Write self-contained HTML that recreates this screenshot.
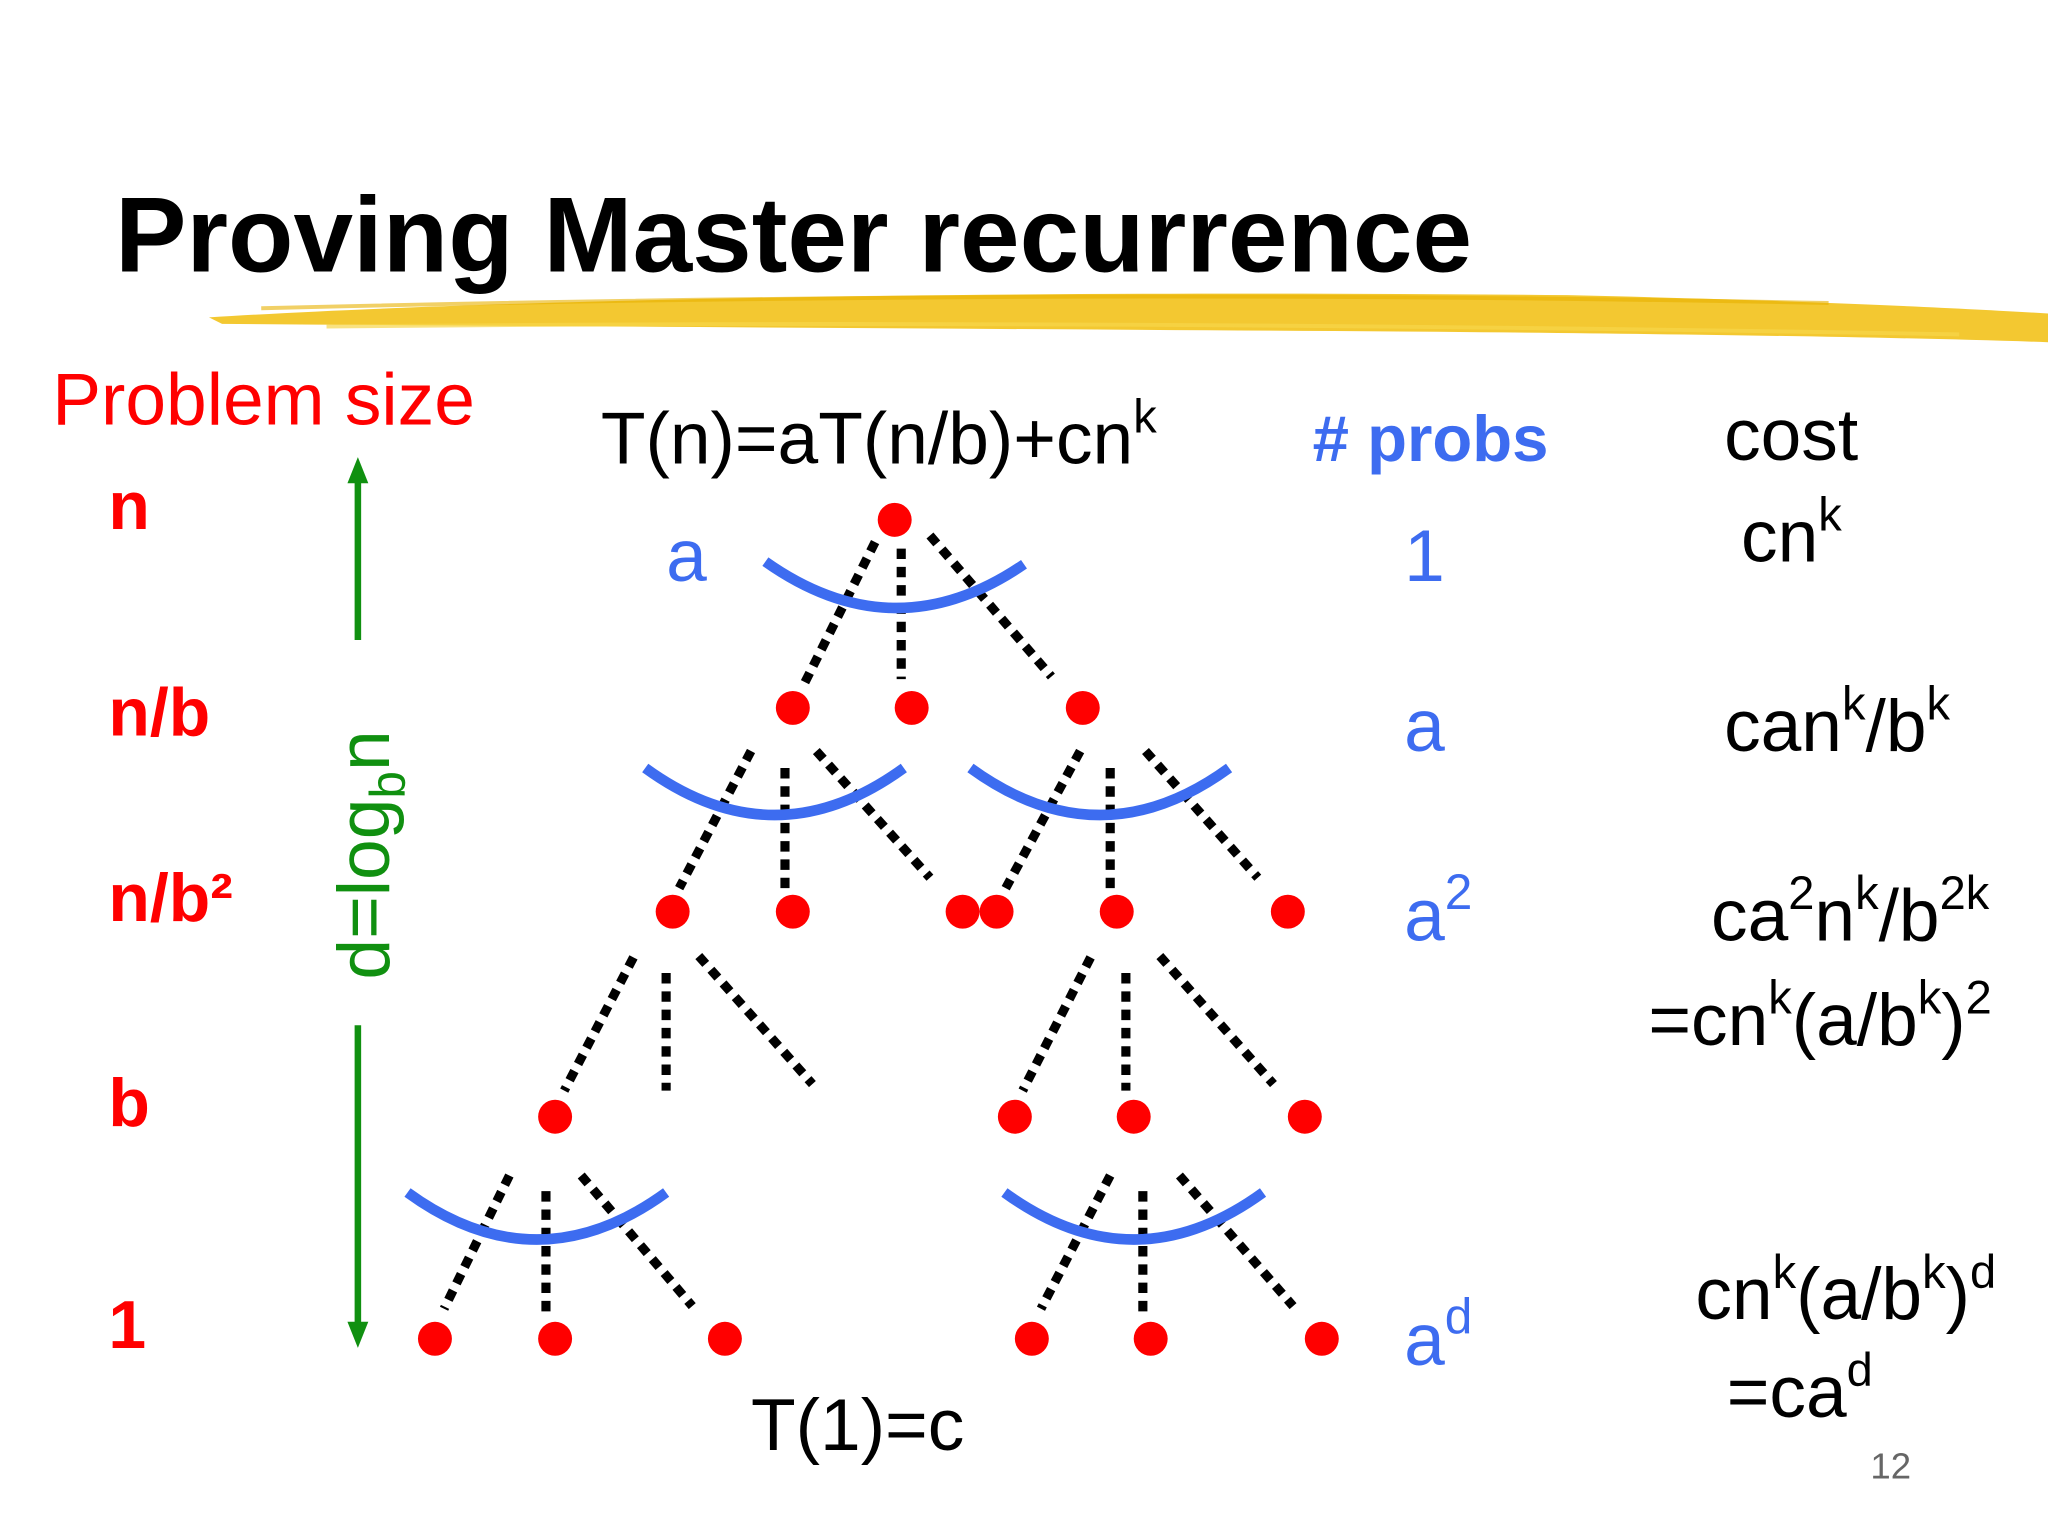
<!DOCTYPE html>
<html><head><meta charset="utf-8"><style>
html,body{margin:0;padding:0;background:#fff;width:2048px;height:1536px;overflow:hidden}
svg{display:block}
text{font-family:"Liberation Sans",sans-serif}
</style></head><body>
<svg width="2048" height="1536" viewBox="0 0 1568 1176" xmlns="http://www.w3.org/2000/svg">
<rect width="1568" height="1176" fill="#fff"/>
<!-- brush stroke -->
<path d="M160 243 C400 228 800 222 1200 226 C1380 230 1500 236 1568 240 L1568 262 C1450 258 1300 256 1100 254 C800 252 450 250 170 248 Z" fill="#f2c21b" opacity="0.9"/>
<path d="M200 236 C600 226 1000 224 1400 232" stroke="#e8b000" stroke-width="3" fill="none" opacity="0.6"/>
<path d="M250 250 C650 246 1050 248 1500 256" stroke="#f7d54a" stroke-width="3" fill="none" opacity="0.7"/>
<text x="88" y="208" font-size="82" font-weight="bold" fill="#000">Proving Master recurrence</text>

<text x="40" y="325" font-size="56" fill="#f00">Problem size</text>
<g font-size="52" font-weight="bold" fill="#f00">
<text x="83" y="405">n</text>
<text x="83" y="563">n/b</text>
<text x="83" y="705">n/b²</text>
<text x="83" y="862">b</text>
<text x="83" y="1032">1</text>
</g>

<!-- green arrow -->
<g stroke="#109010" stroke-width="5" fill="#109010">
<line x1="274" y1="365" x2="274" y2="490"/>
<line x1="274" y1="785" x2="274" y2="1018"/>
<path d="M274 350 L266 370 L282 370 Z" stroke="none"/>
<path d="M274 1032 L266 1012 L282 1012 Z" stroke="none"/>
</g>
<text transform="translate(298,750) rotate(-90)" font-size="56" fill="#109010">d=log<tspan font-size="38" dy="12">b</tspan><tspan dy="-12">n</tspan></text>

<text x="460" y="355" font-size="56" fill="#000">T(n)=aT(n/b)+cn<tspan font-size="36" dy="-24">k</tspan></text>
<text x="1005" y="353" font-size="50" font-weight="bold" fill="#3d6cf0"># probs</text>
<text x="1320" y="352" font-size="56" fill="#000">cost</text>

<g font-size="56" fill="#3d6cf0">
<text x="510" y="445">a</text>
<text x="1075" y="445">1</text>
<text x="1075" y="575">a</text>
<text x="1075" y="720">a<tspan font-size="38" dy="-24">2</tspan></text>
<text x="1075" y="1045">a<tspan font-size="38" dy="-24">d</tspan></text>
</g>

<g font-size="56" fill="#000">
<text x="1333" y="430">cn<tspan font-size="36" dy="-24">k</tspan></text>
<text x="1320" y="575">can<tspan font-size="36" dy="-24">k</tspan><tspan dy="24">/b</tspan><tspan font-size="36" dy="-24">k</tspan></text>
<text x="1310" y="720">ca<tspan font-size="36" dy="-24">2</tspan><tspan dy="24">n</tspan><tspan font-size="36" dy="-24">k</tspan><tspan dy="24">/b</tspan><tspan font-size="36" dy="-24">2k</tspan></text>
<text x="1262" y="800">=cn<tspan font-size="36" dy="-24">k</tspan><tspan dy="24">(a/b</tspan><tspan font-size="36" dy="-24">k</tspan><tspan dy="24">)</tspan><tspan font-size="36" dy="-24">2</tspan></text>
<text x="1298" y="1010">cn<tspan font-size="36" dy="-24">k</tspan><tspan dy="24">(a/b</tspan><tspan font-size="36" dy="-24">k</tspan><tspan dy="24">)</tspan><tspan font-size="36" dy="-24">d</tspan></text>
<text x="1322" y="1085">=ca<tspan font-size="36" dy="-24">d</tspan></text>
<text x="575" y="1110">T(1)=c</text>
</g>
<text x="1432" y="1132" font-size="28" fill="#666">12</text>

<!-- dotted lines -->
<g stroke="#000" stroke-width="7" stroke-dasharray="8 6" fill="none">
<line x1="670" y1="415" x2="615" y2="525"/><line x1="690" y1="420" x2="690" y2="520"/><line x1="712" y1="410" x2="805" y2="518"/>
<line x1="575" y1="575" x2="520" y2="680"/><line x1="601" y1="588" x2="601" y2="680"/><line x1="625" y1="575" x2="712" y2="672"/>
<line x1="827" y1="575" x2="770" y2="680"/><line x1="850" y1="588" x2="850" y2="680"/><line x1="877" y1="575" x2="963" y2="672"/>
<line x1="485" y1="733" x2="432" y2="835"/><line x1="510" y1="745" x2="510" y2="835"/><line x1="535" y1="732" x2="622" y2="830"/>
<line x1="835" y1="733" x2="783" y2="835"/><line x1="862" y1="745" x2="862" y2="835"/><line x1="888" y1="732" x2="975" y2="830"/>
<line x1="390" y1="900" x2="340" y2="1002"/><line x1="418" y1="912" x2="418" y2="1005"/><line x1="445" y1="900" x2="530" y2="1000"/>
<line x1="850" y1="900" x2="797" y2="1002"/><line x1="875" y1="912" x2="875" y2="1005"/><line x1="903" y1="900" x2="990" y2="1000"/>
</g>

<!-- blue arcs -->
<g stroke="#3d6cf0" stroke-width="8" fill="none" stroke-linecap="butt">
<path d="M586 430 Q685 500 784 432"/>
<path d="M494 588 Q593 660 692 588"/>
<path d="M743 588 Q842 660 941 588"/>
<path d="M312 913 Q411 985 510 913"/>
<path d="M769 913 Q868 985 967 913"/>
</g>

<!-- dots -->
<g fill="#f00">
<circle cx="685" cy="398" r="13"/>
<circle cx="607" cy="542" r="13"/><circle cx="698" cy="542" r="13"/><circle cx="829" cy="542" r="13"/>
<circle cx="515" cy="698" r="13"/><circle cx="607" cy="698" r="13"/><circle cx="737" cy="698" r="13"/><circle cx="763" cy="698" r="13"/><circle cx="855" cy="698" r="13"/><circle cx="986" cy="698" r="13"/>
<circle cx="425" cy="855" r="13"/><circle cx="777" cy="855" r="13"/><circle cx="868" cy="855" r="13"/><circle cx="999" cy="855" r="13"/>
<circle cx="333" cy="1025" r="13"/><circle cx="425" cy="1025" r="13"/><circle cx="555" cy="1025" r="13"/><circle cx="790" cy="1025" r="13"/><circle cx="881" cy="1025" r="13"/><circle cx="1012" cy="1025" r="13"/>
</g>
</svg>
</body></html>
